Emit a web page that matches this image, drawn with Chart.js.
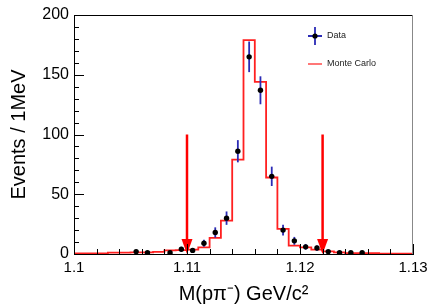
<!DOCTYPE html>
<html>
<head>
<meta charset="utf-8">
<script src="https://cdn.jsdelivr.net/npm/chart.js@4.4.1/dist/chart.umd.min.js"></script>
<style>
  html, body { margin: 0; padding: 0; background: #fff; }
  #wrap { width: 435px; height: 307px; }
</style>
</head>
<body>
<div id="wrap"><canvas id="chart" width="435" height="307"></canvas></div>
<script>
// 1 MeV bins from 1.100 to 1.130 GeV/c^2
const binLow = 1.100;
const binWidth = 0.001;
const mcCounts = [0.4, 0.4, 0.4, 1.2, 1.2, 1.3, 1.3, 1.8, 3.0, 3.2,
                  3.6, 5.5, 13.5, 28, 79, 179, 144, 64, 21, 7,
                  5.5, 3.6, 2.2, 1.3, 0.8, 0.8, 0.8, 0.3, 0.3, 0.3];
const dataCounts = [null, null, null, null, null, 2, 1, null, 1, 4,
                    3, 9, 18, 30, 86, 165, 137, 65, 20, 11,
                    6, 5, 2, 1, 1, 1, null, null, null, null];
const dataErrors = [0, 0, 0, 0, 0, 1.4, 1, 0, 1, 2,
                    1.7, 3, 4.3, 5.6, 9.3, 12.8, 11.7, 8.1, 4.5, 3.3,
                    2.4, 2.2, 1.4, 1, 1, 1, 0, 0, 0, 0];
const cutValues = [1.110, 1.122];
const arrowTop = 100;
const xTickLabels = [1.1, 1.11, 1.12, 1.13];

const FONT = "'Liberation Sans', Arial, Helvetica, sans-serif";

const mcPoints = mcCounts.map((v, i) => ({ x: binLow + i * binWidth, y: v }));
mcPoints.push({ x: binLow + mcCounts.length * binWidth, y: mcCounts[mcCounts.length - 1] });

const dataPoints = [];
dataCounts.forEach((v, i) => {
  if (v !== null) dataPoints.push({ x: binLow + (i + 0.5) * binWidth, y: v, err: dataErrors[i] });
});

const histDecor = {
  id: "histDecor",
  beforeDatasetDraw(chart, args) {
    if (args.index !== 0) return;
    const { ctx, scales: { x, y } } = chart;
    ctx.save();
    ctx.strokeStyle = "#2b2bb5";
    ctx.lineWidth = 1.8;
    dataPoints.forEach(p => {
      const px = x.getPixelForValue(p.x);
      ctx.beginPath();
      ctx.moveTo(px, y.getPixelForValue(p.y - p.err));
      ctx.lineTo(px, y.getPixelForValue(p.y + p.err));
      ctx.stroke();
    });
    ctx.restore();
  },
  afterDatasetsDraw(chart) {
    const { ctx, chartArea: a, scales: { x, y } } = chart;
    ctx.save();

    // cut arrows
    ctx.strokeStyle = "#ff0000";
    ctx.fillStyle = "#ff0000";
    ctx.lineWidth = 2.5;
    cutValues.forEach(c => {
      const px = x.getPixelForValue(c);
      const top = y.getPixelForValue(arrowTop);
      const tip = y.getPixelForValue(0);
      ctx.beginPath();
      ctx.moveTo(px, top);
      ctx.lineTo(px, tip - 14);
      ctx.stroke();
      ctx.beginPath();
      ctx.moveTo(px - 5.5, tip - 15);
      ctx.lineTo(px + 5.5, tip - 15);
      ctx.lineTo(px, tip);
      ctx.closePath();
      ctx.fill();
    });

    // frame
    ctx.lineWidth = 1;
    ctx.strokeStyle = "#000";
    ctx.beginPath();
    ctx.moveTo(a.left, a.top + 0.5);
    ctx.lineTo(a.right, a.top + 0.5);
    ctx.stroke();
    ctx.strokeStyle = "#888";
    ctx.beginPath();
    ctx.moveTo(a.right - 0.5, a.top);
    ctx.lineTo(a.right - 0.5, a.bottom);
    ctx.stroke();

    // inside ticks
    ctx.strokeStyle = "#000";
    ctx.beginPath();
    for (let k = 0; k <= 15; k++) {
      const v = x.min + k * 0.002;
      const px = Math.round(x.getPixelForValue(v)) + 0.5;
      const len = k % 5 === 0 ? 10 : 5;
      ctx.moveTo(px, a.bottom);
      ctx.lineTo(px, a.bottom - len);
    }
    for (let k = 0; k <= 20; k++) {
      const py = Math.round(y.getPixelForValue(k * 10)) + 0.5;
      const len = k % 5 === 0 ? 10 : 5;
      ctx.moveTo(a.left, py);
      ctx.lineTo(a.left + len, py);
    }
    ctx.stroke();
    ctx.restore();
  },
  afterDraw(chart) {
    const { ctx, chartArea: a } = chart;
    const lx = a.right - 98;
    const y1 = a.top + 21;
    const y2 = a.top + 49;
    ctx.save();
    ctx.strokeStyle = "#2b2bb5";
    ctx.lineWidth = 1.8;
    ctx.beginPath();
    ctx.moveTo(lx, y1 - 9);
    ctx.lineTo(lx, y1 + 9);
    ctx.moveTo(lx - 7, y1);
    ctx.lineTo(lx + 7, y1);
    ctx.stroke();
    ctx.fillStyle = "#000";
    ctx.beginPath();
    ctx.arc(lx, y1, 2.6, 0, Math.PI * 2);
    ctx.fill();
    ctx.strokeStyle = "#ff4a4a";
    ctx.lineWidth = 1.5;
    ctx.beginPath();
    ctx.moveTo(lx - 7, y2);
    ctx.lineTo(lx + 7, y2);
    ctx.stroke();
    ctx.fillStyle = "#222";
    ctx.font = "9px " + FONT;
    ctx.textBaseline = "middle";
    ctx.fillText("Data", lx + 12, y1);
    ctx.fillText("Monte Carlo", lx + 12, y2);
    ctx.restore();
  }
};

new Chart(document.getElementById("chart"), {
  type: "scatter",
  data: {
    datasets: [
      {
        label: "Data",
        data: dataPoints,
        pointRadius: 2.7,
        pointBackgroundColor: "#000",
        pointBorderWidth: 0,
        showLine: false
      },
      {
        type: "line",
        label: "Monte Carlo",
        data: mcPoints,
        stepped: "before",
        borderColor: "#ff2020",
        borderWidth: 1.8,
        pointRadius: 0,
        fill: false
      }
    ]
  },
  options: {
    responsive: false,
    animation: false,
    layout: { padding: { left: 0, right: 22, top: 15, bottom: 0 } },
    plugins: { legend: { display: false }, tooltip: { enabled: false } },
    scales: {
      x: {
        type: "linear",
        min: 1.1,
        max: 1.13,
        afterFit: s => { s.height = 53; },
        afterBuildTicks: s => { s.ticks = xTickLabels.map(v => ({ value: v })); },
        grid: { display: false, drawTicks: false },
        border: { display: true, color: "#000", width: 1 },
        ticks: {
          color: "#000",
          padding: 5,
          maxRotation: 0,
          autoSkip: false,
          font: { family: FONT, size: 15 },
          callback: v => String(+v.toFixed(3))
        },
        title: {
          display: true,
          text: "M(pπ⁻) GeV/c²",
          color: "#000",
          font: { family: FONT, size: 20 },
          padding: { top: 0, bottom: 1 }
        }
      },
      y: {
        min: 0,
        max: 200,
        afterFit: s => { s.width = 74; },
        grid: { display: false, drawTicks: false },
        border: { display: true, color: "#000", width: 1 },
        ticks: {
          stepSize: 50,
          color: "#000",
          padding: 5,
          font: { family: FONT, size: 16 }
        },
        title: {
          display: true,
          text: "Events / 1MeV",
          color: "#000",
          font: { family: FONT, size: 20 },
          padding: { top: 7, bottom: 0 }
        }
      }
    }
  },
  plugins: [histDecor]
});
</script>
</body>
</html>
